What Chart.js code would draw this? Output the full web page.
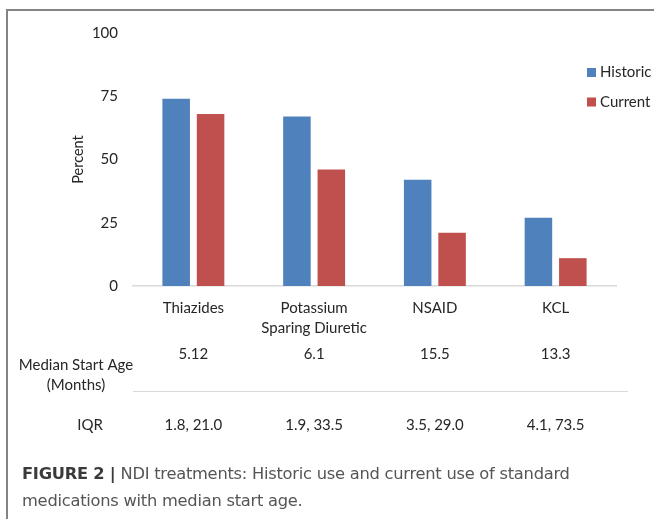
<!DOCTYPE html>
<html>
<head>
<meta charset="utf-8">
<script src="https://cdn.jsdelivr.net/npm/chart.js@4/dist/chart.umd.min.js"></script>
<style>
  body { margin: 0; background: #fff; }
  #wrap { position: relative; width: 654px; height: 519px; overflow: hidden; }
  #frame { position: absolute; left: 6px; top: 9px; width: 700px; height: 600px;
           border-left: 2px solid #848484; border-top: 2px solid #848484; }
  #chart { position: absolute; left: 0; top: 0; }
  #caption { position: absolute; left: 22px; top: 460px; font: 16.3px "DejaVu Sans", sans-serif;
             color: #555; line-height: 27px; letter-spacing: -0.25px; white-space: nowrap; }
  #caption b { color: #3a3a3a; }
</style>
</head>
<body>
<div id="wrap">
  <div id="frame"></div>
  <canvas id="chart" width="654" height="519"></canvas>
  <div id="caption"><b>FIGURE 2 |</b> NDI treatments: Historic use and current use of standard<br>medications with median start age.</div>
</div>
<script>
// données
var categories = ['Thiazides', ['Potassium', 'Sparing Diuretic'], 'NSAID', 'KCL'];
var historic = [74, 67, 42, 27];
var current = [68, 46, 21, 11];
var yTicks = [0, 25, 50, 75, 100];
var medianAge = ['5.12', '6.1', '15.5', '13.3'];
var iqr = ['1.8, 21.0', '1.9, 33.5', '3.5, 29.0', '4.1, 73.5'];

var FONT = 'Lato, "Open Sans", sans-serif';

// légende + tableau sous le graphique
var extras = {
  id: 'extras',
  afterDraw: function(chart) {
    var ctx = chart.ctx;
    var x = chart.scales.x;
    ctx.save();
    ctx.font = '15px ' + FONT;
    ctx.textBaseline = 'middle';

    // légende
    var legendY = [72.5, 102];
    chart.data.datasets.forEach(function(ds, i) {
      ctx.fillStyle = ds.backgroundColor;
      ctx.fillRect(587, legendY[i] - 4.5, 9, 9);
      ctx.fillStyle = '#262626';
      ctx.textAlign = 'left';
      ctx.fillText(ds.label, 600, legendY[i]);
    });

    // tableau
    ctx.fillStyle = '#262626';
    ctx.textAlign = 'center';
    ctx.fillText('Median Start Age', 76, 365);
    ctx.fillText('(Months)', 76, 385);
    ctx.fillText('IQR', 90, 425);
    medianAge.forEach(function(v, i) {
      ctx.fillText(v, x.getPixelForValue(i), 354);
    });
    iqr.forEach(function(v, i) {
      ctx.fillText(v, x.getPixelForValue(i), 425);
    });

    ctx.strokeStyle = '#d9d9d9';
    ctx.lineWidth = 1;
    ctx.beginPath();
    ctx.moveTo(133, 391.5);
    ctx.lineTo(628, 391.5);
    ctx.stroke();
    ctx.restore();
  }
};

new Chart(document.getElementById('chart'), {
  type: 'bar',
  data: {
    labels: categories,
    datasets: [
      { label: 'Historic', data: historic, backgroundColor: '#4f81bd', categoryPercentage: 0.57, barPercentage: 0.8 },
      { label: 'Current', data: current, backgroundColor: '#c0504d', categoryPercentage: 0.57, barPercentage: 0.8 }
    ]
  },
  options: {
    responsive: false,
    animation: false,
    layout: { padding: { left: 0, top: 33, right: 38, bottom: 519 - 286 - 60 } },
    plugins: {
      legend: { display: false },
      tooltip: { enabled: false }
    },
    scales: {
      x: {
        grid: { display: false, drawTicks: false },
        border: { display: true, color: '#d9d9d9', width: 1.5 },
        ticks: { color: '#262626', font: { family: FONT, size: 15, lineHeight: 1.33 }, padding: 12, maxRotation: 0, autoSkip: false },
        afterFit: function(s) { s.height = 60; }
      },
      y: {
        min: 0,
        max: 100,
        afterBuildTicks: function(s) { s.ticks = yTicks.map(function(v) { return { value: v }; }); },
        grid: { display: false, drawTicks: false },
        border: { display: false },
        ticks: { color: '#262626', font: { family: FONT, size: 15 }, padding: 15 },
        title: { display: true, text: 'Percent', color: '#262626', font: { family: FONT, size: 14.5 }, padding: { top: 70, bottom: 0 } },
        afterFit: function(s) { s.width = 133; }
      }
    }
  },
  plugins: [extras]
});
</script>
</body>
</html>
